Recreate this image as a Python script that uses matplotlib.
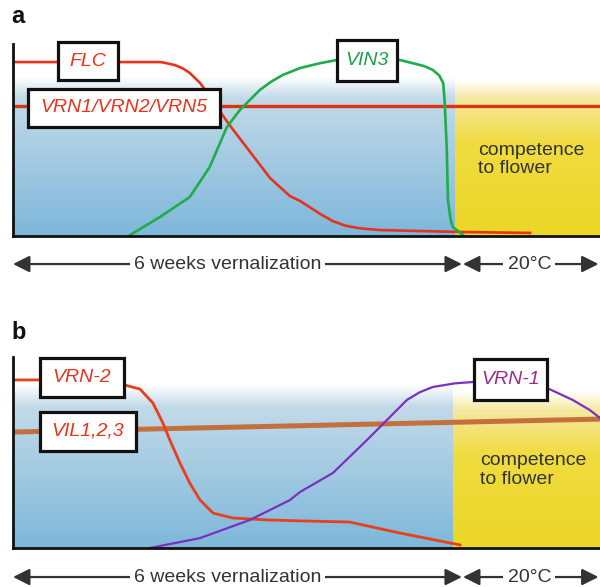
import numpy as np
import matplotlib
matplotlib.use("Agg")
import matplotlib.pyplot as plt
from matplotlib.colors import LinearSegmentedColormap
from matplotlib.patches import Rectangle, FancyArrowPatch

plt.rcParams["font.family"] = ["Liberation Sans", "DejaVu Sans"]

# x in weeks from the start of cold, y in relative expression level (0..1)
X_MAX = 7.97
COLD_END = 6.0

# panel a (Arabidopsis)
flc_weeks = [0, 1.2, 2.0, 2.06, 2.2, 2.31, 2.4, 2.47, 2.54, 2.61, 2.67, 2.95, 3.22, 3.49, 3.76,
             3.9, 4.17, 4.34, 4.51, 4.71, 4.98, 6.07, 7.02]
flc_level = [0.906, 0.906, 0.906, 0.902, 0.89, 0.872, 0.849, 0.823, 0.797, 0.76, 0.724, 0.573,
             0.4375, 0.302, 0.208, 0.182, 0.115, 0.078, 0.054, 0.04, 0.031, 0.021, 0.016]
vrn_a_weeks = [0, X_MAX]
vrn_a_level = [0.677, 0.677]
vin3_weeks = [1.59, 1.995, 2.40, 2.67, 2.905, 3.08, 3.35, 3.51, 3.665, 3.90, 4.17, 4.40, 4.80,
              5.25, 5.47, 5.59, 5.70, 5.79, 5.84, 5.86, 5.89, 5.905, 5.94, 5.97, 6.11]
vin3_level = [0.005, 0.099, 0.203, 0.359, 0.568, 0.656, 0.760, 0.805, 0.839, 0.875, 0.90, 0.917,
              0.917, 0.917, 0.896, 0.884, 0.865, 0.835, 0.797, 0.708, 0.448, 0.1875, 0.09, 0.047,
              0.005]

# panel b (cereals)
vrn2_weeks = [0, 1.18, 1.52, 1.724, 1.90, 2.036, 2.13, 2.267, 2.40, 2.54, 2.715, 2.986, 3.448,
              3.896, 4.57, 5.25, 6.07]
vrn2_level = [0.880, 0.880, 0.853, 0.832, 0.759, 0.654, 0.565, 0.445, 0.340, 0.251, 0.183, 0.157,
              0.147, 0.142, 0.136, 0.0785, 0.016]
vil_weeks = [0, X_MAX]
vil_level = [0.607, 0.675]
vrn1_weeks = [1.86, 2.54, 3.217, 3.76, 3.896, 4.344, 4.805, 5.077, 5.348, 5.52, 5.70, 6.0, 6.244,
              6.75, 7.249, 7.60, 7.83, 7.97]
vrn1_level = [0.0, 0.052, 0.147, 0.251, 0.293, 0.393, 0.565, 0.670, 0.775, 0.815, 0.843, 0.862,
              0.869, 0.88, 0.838, 0.775, 0.7225, 0.681]

BLUE = LinearSegmentedColormap.from_list("cold", [(0, "#7db7da"), (0.87, "#c2dae8"), (1, "white")])
YELLOW = LinearSegmentedColormap.from_list("warm", [(0, "#ecd626"), (0.6, "#f0dc40"),
                                                   (0.88, "#f4e8a0"), (1, "white")])
TXT = "#333333"
RED = "#e8321e"


def shade(ax, x0, x1, top, cmap):
    ramp = np.linspace(0, 1, 256).reshape(-1, 1)
    ax.imshow(ramp, extent=[x0, x1, 0, top], origin="lower", cmap=cmap, aspect="auto", zorder=0)


def label_box(ax, x0, x1, y0, y1, text, color):
    ax.add_patch(Rectangle((x0, y0), x1 - x0, y1 - y0, facecolor="white", edgecolor="#111111",
                           lw=2.3, zorder=5, clip_on=False))
    ax.text((x0 + x1) / 2, (y0 + y1) / 2, text, color=color, style="italic", fontsize=14,
            ha="center", va="center", zorder=6, clip_on=False)


def time_arrows(ax, y):
    for a, b in [(0, 6.095), (6.11, 7.95)]:
        ax.add_patch(FancyArrowPatch((a, y), (b, y), arrowstyle="<|-|>,head_length=0.5,head_width=0.25",
                                     mutation_scale=20, color=TXT, lw=1.6, shrinkA=0, shrinkB=0,
                                     clip_on=False, zorder=3))
    bb = dict(facecolor="white", edgecolor="none", pad=3)
    ax.text(2.91, y, "6 weeks vernalization", fontsize=14, color=TXT, ha="center", va="center",
            bbox=bb, zorder=4, clip_on=False)
    ax.text(7.01, y, "20°C", fontsize=14, color=TXT, ha="center", va="center",
            bbox=bb, zorder=4, clip_on=False)


def setup(ax):
    ax.set_xlim(0, X_MAX)
    ax.set_ylim(0, 1)
    ax.set_xticks([])
    ax.set_yticks([])
    for s in ("top", "right"):
        ax.spines[s].set_visible(False)
    for s in ("left", "bottom"):
        ax.spines[s].set_linewidth(2.0)
        ax.spines[s].set_color("#111111")
        ax.spines[s].set_zorder(4)


fig = plt.figure(figsize=(6, 5.87), dpi=100)
W, H = 600, 587
ax_a = fig.add_axes([13 / W, (H - 236) / H, 587 / W, 192 / H])
ax_b = fig.add_axes([13 / W, (H - 548) / H, 587 / W, 191 / H])
for ax in (ax_a, ax_b):
    setup(ax)

# panel a
shade(ax_a, 0, COLD_END, 0.823, BLUE)
shade(ax_a, COLD_END, X_MAX, 0.81, YELLOW)
ax_a.plot(vrn_a_weeks, vrn_a_level, color="#dc3412", lw=2.4, zorder=2)
ax_a.plot(flc_weeks, flc_level, color=RED, lw=1.9, zorder=2, solid_joinstyle="round")
ax_a.plot(vin3_weeks, vin3_level, color="#1fad4c", lw=1.9, zorder=2, solid_joinstyle="round")
label_box(ax_a, 0.611, 1.425, 0.8125, 1.010, "FLC", RED)
label_box(ax_a, 0.204, 2.81, 0.568, 0.766, "VRN1/VRN2/VRN5", RED)
label_box(ax_a, 4.398, 5.213, 0.807, 1.021, "VIN3", "#1f9e4a")
ax_a.text(6.31, 0.40, "competence\nto flower", fontsize=14, color=TXT, ha="left", va="center",
          linespacing=1.1, zorder=3)
time_arrows(ax_a, -0.146)

# panel b
shade(ax_b, 0, 5.97, 0.853, BLUE)
shade(ax_b, 5.97, X_MAX, 0.82, YELLOW)
ax_b.plot(vil_weeks, vil_level, color="#c4703e", lw=3.6, zorder=2)
ax_b.plot(vrn2_weeks, vrn2_level, color="#e8401a", lw=2.0, zorder=2, solid_joinstyle="round")
ax_b.plot(vrn1_weeks, vrn1_level, color="#7b30c0", lw=1.6, zorder=2, solid_joinstyle="round")
label_box(ax_b, 0.3665, 1.507, 0.791, 0.995, "VRN-2", RED)
label_box(ax_b, 0.3665, 1.67, 0.508, 0.712, "VIL1,2,3", RED)
label_box(ax_b, 6.258, 7.249, 0.775, 0.990, "VRN-1", "#9a2a8a")
ax_b.text(6.34, 0.408, "competence\nto flower", fontsize=14, color=TXT, ha="left", va="center",
          linespacing=1.1, zorder=3)
time_arrows(ax_b, -0.152)

fig.text(11 / W, 1 - 23 / H, "a", fontsize=17, fontweight="bold", color="#111111")
fig.text(11 / W, 1 - 339 / H, "b", fontsize=17, fontweight="bold", color="#111111")

fig.savefig("out.png", dpi=100, facecolor="white")
